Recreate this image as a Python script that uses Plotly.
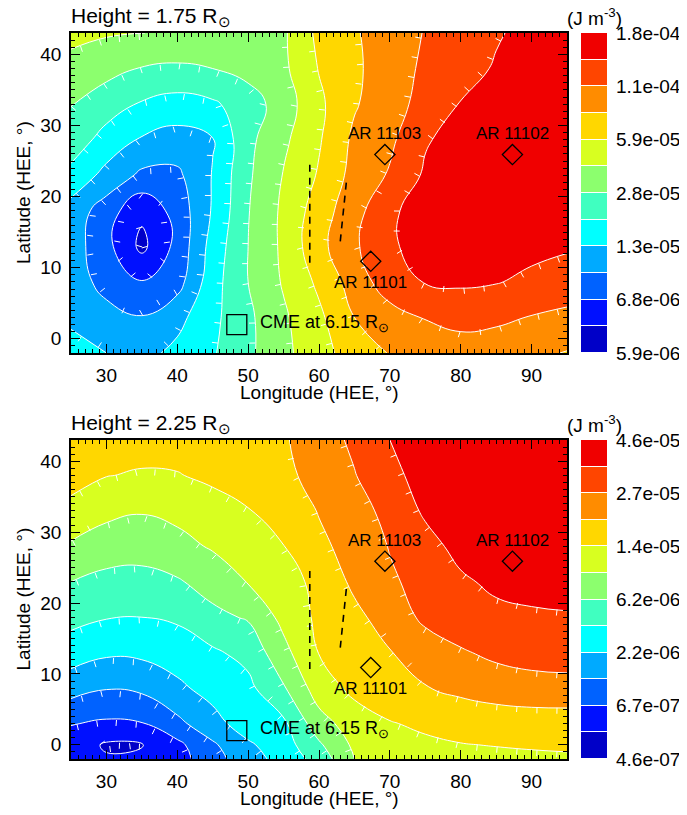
import bisect
import math
import plotly.graph_objects as go

# ---------------- data ----------------
lon = [25, 30, 35, 40, 45, 50, 55, 60, 65, 70, 75, 80, 85, 90, 95]

# contour level index (0..12) of the energy density, rows = latitude (bottom -> top)
lat_175 = [-2, 3, 8, 13, 18, 23, 28, 33, 38, 43]
level_175 = [
    [4.30, 4.00, 3.70, 4.25, 4.90, 5.80, 6.75, 7.65, 8.45, 9.05, 9.40, 9.55, 9.45, 9.20, 8.95],
    [3.85, 3.30, 3.05, 3.70, 4.75, 5.80, 6.85, 7.80, 9.00, 9.60, 10.05, 10.30, 10.20, 9.95, 9.75],
    [3.45, 2.70, 2.05, 2.60, 4.60, 6.00, 7.10, 8.20, 9.45, 10.55, 11.05, 11.15, 11.05, 10.80, 10.60],
    [3.50, 2.30, 0.75, 2.30, 4.40, 6.00, 7.20, 8.70, 9.85, 10.85, 11.40, 11.50, 11.40, 11.25, 11.10],
    [3.60, 2.50, 1.20, 2.40, 4.10, 5.95, 7.20, 8.50, 9.65, 10.80, 11.50, 11.75, 11.85, 11.85, 11.85],
    [4.70, 3.70, 2.80, 2.80, 4.05, 5.85, 7.05, 8.10, 9.35, 10.10, 11.15, 11.60, 11.80, 11.85, 11.85],
    [5.60, 4.60, 3.90, 3.60, 3.95, 5.75, 6.80, 7.90, 9.20, 9.80, 10.90, 11.40, 11.70, 11.80, 11.80],
    [6.03, 5.50, 4.90, 4.60, 4.85, 5.50, 6.50, 7.80, 8.90, 9.65, 10.30, 11.05, 11.40, 11.60, 11.70],
    [6.70, 6.30, 5.95, 5.85, 6.00, 6.35, 6.80, 8.05, 8.80, 9.60, 10.15, 10.60, 11.10, 11.40, 11.60],
    [7.25, 7.10, 7.02, 6.80, 6.70, 6.75, 6.85, 8.25, 8.90, 9.50, 10.05, 10.50, 10.90, 11.30, 11.60],
]

lat_225 = [-2, 0, 3, 8, 13, 18, 23, 28, 33, 38, 43]
level_225 = [
    [1.35, 1.10, 1.20, 1.60, 2.60, 3.60, 4.35, 5.40, 7.00, 7.35, 7.55, 7.70, 7.80, 7.85, 7.90],
    [1.55, 0.88, 0.95, 1.75, 2.85, 3.85, 4.55, 5.85, 7.20, 7.65, 7.85, 7.97, 8.03, 8.08, 8.10],
    [2.05, 1.85, 1.95, 2.75, 3.65, 4.50, 4.80, 6.60, 7.50, 7.95, 8.15, 8.30, 8.40, 8.45, 8.45],
    [3.40, 3.05, 3.20, 3.80, 4.35, 4.75, 5.90, 7.50, 8.25, 8.55, 8.95, 9.25, 9.50, 9.65, 9.70],
    [4.50, 4.15, 4.20, 4.45, 4.85, 5.30, 6.70, 8.03, 8.55, 8.95, 9.50, 9.90, 10.20, 10.35, 10.40],
    [5.30, 5.05, 5.00, 5.15, 5.75, 6.10, 7.30, 8.20, 8.75, 9.45, 10.20, 10.55, 10.75, 10.85, 10.90],
    [6.00, 5.65, 5.55, 5.90, 6.40, 7.05, 7.55, 8.30, 9.20, 9.85, 10.35, 10.85, 11.20, 11.35, 11.45],
    [6.85, 6.60, 6.55, 6.70, 7.10, 7.50, 7.98, 8.80, 9.35, 10.05, 10.65, 11.30, 11.60, 11.75, 11.80],
    [7.85, 7.20, 7.05, 7.25, 7.60, 7.95, 8.40, 9.05, 9.60, 10.30, 11.15, 11.55, 11.75, 11.85, 11.90],
    [8.20, 8.03, 7.90, 7.95, 8.20, 8.50, 8.80, 9.30, 9.95, 10.75, 11.35, 11.70, 11.85, 11.95, 12.00],
    [8.50, 8.45, 8.40, 8.40, 8.50, 8.65, 8.90, 9.50, 10.20, 11.00, 11.50, 11.80, 11.95, 12.00, 12.00],
]

heights = ["1.75", "2.25"]
cbar_levels = [0, 2, 4, 6, 8, 10, 12]
cbar_text_175 = ["5.9e-06", "6.8e-06", "1.3e-05", "2.8e-05", "5.9e-05", "1.1e-04", "1.8e-04"]
cbar_text_225 = ["4.6e-07", "6.7e-07", "2.2e-06", "6.2e-06", "1.4e-05", "2.7e-05", "4.6e-05"]

ar_names = ["AR 11101", "AR 11102", "AR 11103"]
ar_lon = [67.3, 87.3, 69.3]
ar_lat = [10.9, 25.9, 25.9]
ar_label_side = ["below", "above", "above"]

cme_lon = [48.4]
cme_lat = [2.0]
cme_text = "CME at 6.15 R<sub>⊙</sub>"

dash_a_lon = [58.7, 58.7]
dash_a_lat = [10.7, 24.7]
dash_b_lon = [63.0, 63.9]
dash_b_lat = [13.7, 22.4]

# ---------------- styles ----------------
PAGE_W, PAGE_H = 687, 815
BODY = 8                      # default page margin of the html body
W, H = PAGE_W - BODY, PAGE_H - BODY
FONT = "Liberation Sans, Arial, Helvetica, sans-serif"
band_colors = ["#0000c8", "#0010ff", "#0062ff", "#00aaff", "#00ffff", "#40ffc0",
               "#8cff6e", "#d8ff20", "#ffd700", "#ff8c00", "#ff4500", "#f00000"]
n_b = len(band_colors)
colorscale = []
for k, c in enumerate(band_colors):
    colorscale.append([k / n_b, c])
    colorscale.append([(k + 1) / n_b, c])

PLOT_L, PLOT_R = 71, 567
CB_L, CB_R = 581, 607
X_RANGE, Y_RANGE = [25, 95], [-2, 43]
TICK_SPACING, TICK_LEN = 20.0, 6.0      # downhill contour ticks (pixels)
panels = [
    dict(h=heights[0], lat=lat_175, z=level_175, cbt=cbar_text_175, top=33, bottom=353),
    dict(h=heights[1], lat=lat_225, z=level_225, cbt=cbar_text_225, top=440, bottom=759),
]


def fx(x):
    return (x - BODY) / W


def fy(y):
    return 1 - (y - BODY) / H


def bilinear(xs, ys, Z, x, y):
    i = max(0, min(len(xs) - 2, bisect.bisect_right(xs, x) - 1))
    j = max(0, min(len(ys) - 2, bisect.bisect_right(ys, y) - 1))
    tx = (x - xs[i]) / (xs[i + 1] - xs[i])
    ty = (y - ys[j]) / (ys[j + 1] - ys[j])
    return (Z[j][i] * (1 - tx) * (1 - ty) + Z[j][i + 1] * tx * (1 - ty)
            + Z[j + 1][i] * (1 - tx) * ty + Z[j + 1][i + 1] * tx * ty)


def contour_chains(xs, ys, Z, L):
    """marching squares on the same grid that the contour trace uses"""
    pts, adj = {}, {}

    def corner(i, j):
        return xs[i], ys[j], Z[j][i]

    def edge_point(key, a, b):
        if key not in pts:
            xa_, ya_, za = a
            xb_, yb_, zb = b
            t = (L - za) / (zb - za)
            pts[key] = (xa_ + t * (xb_ - xa_), ya_ + t * (yb_ - ya_))
        return key

    def link(k1, k2):
        adj.setdefault(k1, []).append(k2)
        adj.setdefault(k2, []).append(k1)

    for j in range(len(ys) - 1):
        for i in range(len(xs) - 1):
            c = [corner(i, j), corner(i + 1, j), corner(i + 1, j + 1), corner(i, j + 1)]
            keys = [("h", i, j), ("v", i + 1, j), ("h", i, j + 1), ("v", i, j)]
            ab = [cc[2] > L for cc in c]
            cross = []
            for e in range(4):
                a, b = c[e], c[(e + 1) % 4]
                if ab[e] != ab[(e + 1) % 4]:
                    cross.append(edge_point(keys[e], a, b))
            if len(cross) == 2:
                link(cross[0], cross[1])
            elif len(cross) == 4:
                centre = sum(cc[2] for cc in c) / 4 > L
                if centre == ab[0]:
                    link(keys[0], keys[1]); link(keys[2], keys[3])
                else:
                    link(keys[3], keys[0]); link(keys[1], keys[2])
    chains, used = [], set()
    starts = [k for k in adj if len(adj[k]) == 1] + [k for k in adj if len(adj[k]) != 1]
    for s in starts:
        if s in used:
            continue
        chain, prev, cur = [s], None, s
        used.add(s)
        while True:
            nxt = [n for n in adj[cur] if n != prev and n not in used]
            if not nxt:
                if len(adj[cur]) == 2 and s in adj[cur] and prev is not None and len(chain) > 2:
                    chain.append(s)
                break
            prev, cur = cur, nxt[0]
            used.add(cur)
            chain.append(cur)
        chains.append([pts[k] for k in chain])
    return chains


def downhill_ticks(xs, ys, Z, levels, sx, sy):
    tx_, ty_ = [], []
    for L in levels:
        for chain in contour_chains(xs, ys, Z, L):
            P = [(x * sx, y * sy) for x, y in chain]
            carry = TICK_SPACING / 2
            for (x0, y0), (x1, y1) in zip(P[:-1], P[1:]):
                seg = math.hypot(x1 - x0, y1 - y0)
                if seg == 0:
                    continue
                ux, uy = (x1 - x0) / seg, (y1 - y0) / seg
                s = carry
                while s <= seg:
                    px_, py_ = x0 + ux * s, y0 + uy * s
                    nx, ny = -uy, ux
                    zt = bilinear(xs, ys, Z, (px_ + nx * 1.5) / sx, (py_ + ny * 1.5) / sy)
                    if zt > L:
                        nx, ny = -nx, -ny
                    tx_ += [px_ / sx, (px_ + nx * TICK_LEN) / sx, None]
                    ty_ += [py_ / sy, (py_ + ny * TICK_LEN) / sy, None]
                    s += TICK_SPACING
                carry = s - seg
    return tx_, ty_


fig = go.Figure()
annotations = []
layout = {}
for i, p in enumerate(panels):
    mi, ci = 2 * i + 1, 2 * i + 2
    xa, ya = ("x", "y") if mi == 1 else (f"x{mi}", f"y{mi}")
    xc, yc = f"x{ci}", f"y{ci}"

    fig.add_trace(go.Contour(
        x=lon, y=p["lat"], z=p["z"], xaxis=xa, yaxis=ya,
        colorscale=colorscale, zmin=0, zmax=n_b, showscale=False,
        contours=dict(start=1, end=n_b - 1, size=1, coloring="fill"),
        line=dict(color="white", width=1, smoothing=1.3), hoverinfo="skip"))

    sx = (PLOT_R - PLOT_L) / (X_RANGE[1] - X_RANGE[0])
    sy = (p["bottom"] - p["top"]) / (Y_RANGE[1] - Y_RANGE[0])
    tkx, tky = downhill_ticks(lon, p["lat"], p["z"], range(1, n_b), sx, sy)
    fig.add_trace(go.Scatter(x=tkx, y=tky, xaxis=xa, yaxis=ya, mode="lines",
                             line=dict(color="white", width=1), showlegend=False,
                             hoverinfo="skip", cliponaxis=True))

    for dl, dla in ((dash_a_lon, dash_a_lat), (dash_b_lon, dash_b_lat)):
        fig.add_trace(go.Scatter(x=dl, y=dla, xaxis=xa, yaxis=ya, mode="lines",
                                 line=dict(color="black", width=1.6, dash="7px,6px"),
                                 showlegend=False, hoverinfo="skip"))
    fig.add_trace(go.Scatter(x=ar_lon, y=ar_lat, xaxis=xa, yaxis=ya, mode="markers",
                             marker=dict(symbol="diamond-open", size=15.5, color="black",
                                         line=dict(width=1.3, color="black")),
                             showlegend=False, hoverinfo="skip"))
    fig.add_trace(go.Scatter(x=cme_lon, y=cme_lat, xaxis=xa, yaxis=ya, mode="markers",
                             marker=dict(symbol="square-open", size=20, color="black",
                                         line=dict(width=1.3, color="black")),
                             showlegend=False, hoverinfo="skip"))

    # colour bar drawn as a heatmap of the band indices
    fig.add_trace(go.Heatmap(x=[0], y=[k + 0.5 for k in range(n_b)],
                             z=[[k + 0.5] for k in range(n_b)], xaxis=xc, yaxis=yc,
                             colorscale=colorscale, zmin=0, zmax=n_b, showscale=False,
                             ygap=1, hoverinfo="skip"))

    dom_y = [fy(p["bottom"]), fy(p["top"])]
    axis_common = dict(showline=True, linecolor="black", linewidth=1.5, mirror="ticks",
                       ticks="inside", ticklen=9, tickwidth=1.2, tickcolor="black",
                       showgrid=False, zeroline=False, automargin=False,
                       tickfont=dict(family=FONT, size=19, color="black"),
                       minor=dict(dtick=1, ticks="inside", ticklen=4.5, tickwidth=1,
                                  tickcolor="black", showgrid=False))
    layout["xaxis" if mi == 1 else f"xaxis{mi}"] = dict(
        domain=[fx(PLOT_L), fx(PLOT_R)], range=X_RANGE, anchor=ya, dtick=10, tick0=0,
        ticklabelstandoff=4, **axis_common)
    layout["yaxis" if mi == 1 else f"yaxis{mi}"] = dict(
        domain=dom_y, range=Y_RANGE, anchor=xa, dtick=10, tick0=0,
        ticklabelstandoff=4, **axis_common)
    layout[f"xaxis{ci}"] = dict(domain=[fx(CB_L), fx(CB_R)], range=[-0.5, 0.5], anchor=yc,
                                visible=False, fixedrange=True, automargin=False)
    layout[f"yaxis{ci}"] = dict(domain=dom_y, range=[0, n_b], anchor=xc, side="right",
                                tickvals=cbar_levels, ticktext=p["cbt"], ticks="",
                                showline=False, showgrid=False, zeroline=False,
                                ticklabelstandoff=8, automargin=False,
                                tickfont=dict(family=FONT, size=19, color="black"))

    # texts
    for name, x0, y0, side in zip(ar_names, ar_lon, ar_lat, ar_label_side):
        annotations.append(dict(x=x0, y=y0, xref=xa, yref=ya, text=name, showarrow=False,
                                yshift=21 if side == "above" else -21,
                                font=dict(family=FONT, size=17, color="black")))
    annotations.append(dict(x=cme_lon[0], y=cme_lat[0], xref=xa, yref=ya, text=cme_text,
                            showarrow=False, xanchor="left", xshift=21, yshift=1,
                            font=dict(family=FONT, size=18, color="black")))
    annotations.append(dict(x=fx(PLOT_L - 2), y=fy(p["top"] - 16), xref="paper", yref="paper",
                            text=f"Height = {p['h']} R<sub>⊙</sub>", showarrow=False,
                            xanchor="left", yanchor="middle",
                            font=dict(family=FONT, size=21, color="black")))
    annotations.append(dict(x=fx((CB_L + CB_R) / 2), y=fy(p["top"] - 16), xref="paper",
                            yref="paper", text="(J m<sup>-3</sup>)", showarrow=False,
                            xanchor="center", yanchor="middle",
                            font=dict(family=FONT, size=19, color="black")))
    annotations.append(dict(x=fx((PLOT_L + PLOT_R) / 2), y=fy(p["bottom"] + 39), xref="paper",
                            yref="paper", text="Longitude (HEE, °)", showarrow=False,
                            xanchor="center", yanchor="middle",
                            font=dict(family=FONT, size=19, color="black")))
    annotations.append(dict(x=fx(23), y=fy((p["top"] + p["bottom"]) / 2), xref="paper",
                            yref="paper", text="Latitude (HEE, °)", showarrow=False,
                            textangle=-90, xanchor="center", yanchor="middle",
                            font=dict(family=FONT, size=19, color="black")))

fig.update_layout(width=W, height=H, margin=dict(l=0, r=0, t=0, b=0, autoexpand=False),
                  paper_bgcolor="white", plot_bgcolor="white", showlegend=False,
                  annotations=annotations, **layout)
fig.write_html("out.html")
